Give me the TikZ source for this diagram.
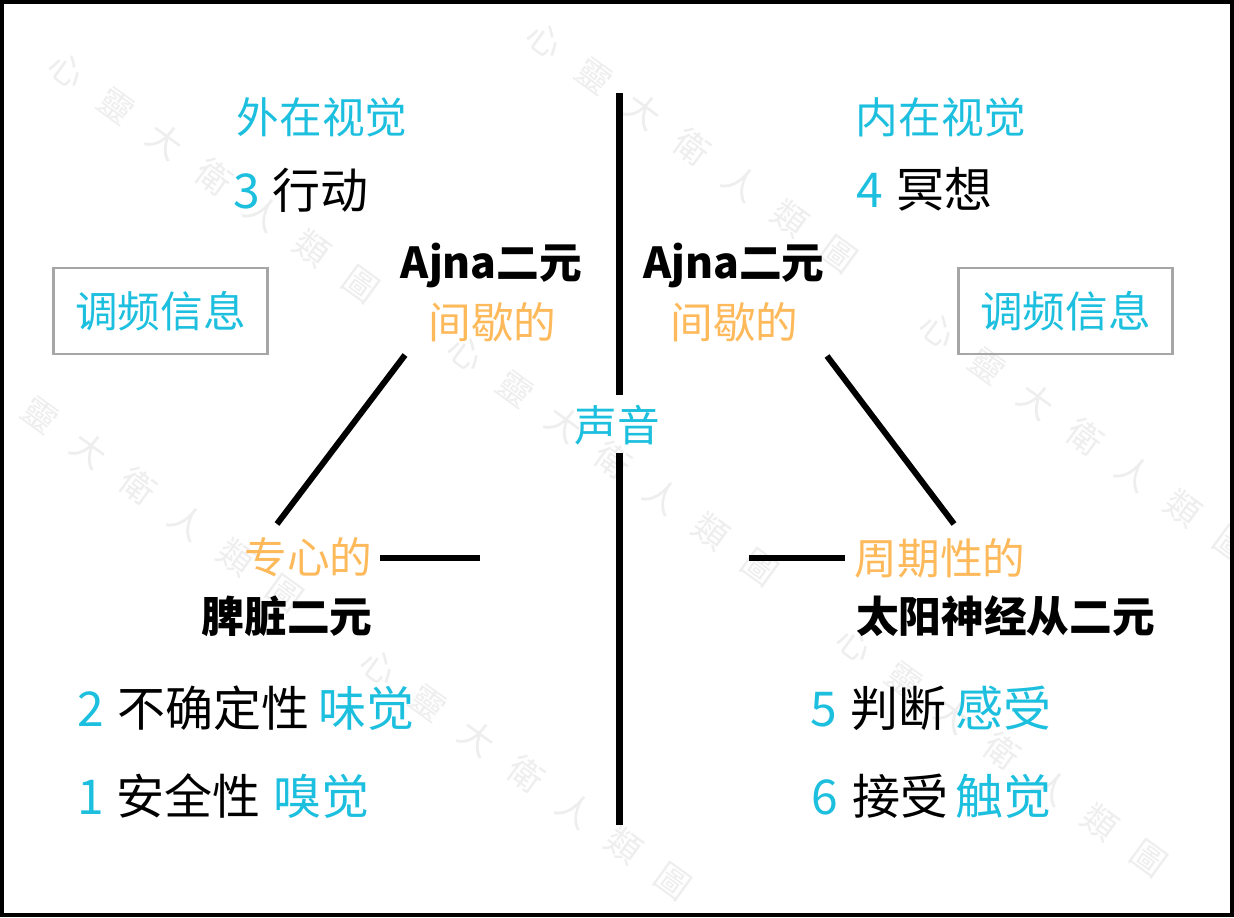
\documentclass[tikz,border=0pt]{standalone}
\usepackage{fontspec}
\setmainfont{Noto Sans CJK SC}
\newfontfamily\wmfont{Noto Sans CJK TC}
\definecolor{hdcyan}{HTML}{1DBFDF}
\definecolor{hdorange}{HTML}{FDB95A}
\definecolor{boxgray}{HTML}{A6A6A6}
\definecolor{wmgray}{HTML}{EEEEEE}
\begin{document}
\begin{tikzpicture}[x=0.75pt,y=-0.75pt,
  txt/.style={inner sep=0pt, anchor=center},
  hd/.style={txt, font=\fontsize{32}{38}\selectfont, text height=28.2pt, text depth=3.8pt},
  hdb/.style={hd, font=\fontsize{32}{38}\selectfont\bfseries},
  big/.style={txt, font=\fontsize{36}{42}\selectfont, text height=31.7pt, text depth=4.3pt},
  tbox/.style={hd, text=hdcyan, draw=boxgray, line width=2.2pt, minimum width=161pt, minimum height=64.5pt},
  wm/.style={inner sep=0pt, text=wmgray, font=\wmfont\fontsize{26}{30}\selectfont, rotate=-36},
  ln/.style={line width=4.5pt},
  vln/.style={line width=5pt}
]
\useasboundingbox (0,0) rectangle (1234,917);
\fill[white] (0,0) rectangle (1234,917);
% watermark
\foreach \sx/\sy [count=\i] in {67/70, 545/40, 938/330, -9/379, 466/353, 379/667, 855/644}{
  \foreach \c [count=\j from 0] in {心,靈,大,衛,人,類,圖}{
    \node[wm] (wm\i-\j) at ({\sx+49*\j},{\sy+35.7*\j}) {\c};
  }
}
% frame
\draw[line width=3pt] (2,2) rectangle (1232,915);

% centre axis
\node[hd, text=hdcyan] (sound) at (617,425) {声音};
\coordinate (vtop) at (619.5,93);
\coordinate (vmid1) at (619.5,395);
\coordinate (vmid2) at (619.5,453);
\coordinate (vbot) at (619.5,825);
\draw[vln] (vtop) -- (vmid1);
\draw[vln] (vmid2) -- (vbot);

% left half
\node[hd, text=hdcyan] (outvis) at (322,117.5) {外在视觉};
\node[big, text=hdcyan] (n3) at (247,190) {3};
\node[big] (act) at (320.5,190) {行动};
\node[hdb] (ajnaL) at (491.5,262) {Ajna二元};
\node[hd, text=hdorange] (intL) at (492.5,322) {间歇的};
\node[tbox] (boxL) at (160.5,311) {调频信息};
\node[hd, text=hdorange] (focus) at (308.5,557) {专心的};
\node[hdb] (spleen) at (287,616) {脾脏二元};
\node[big, text=hdcyan] (n2) at (91,708) {2};
\node[big] (uncert) at (213,708) {不确定性};
\node[big, text=hdcyan] (taste) at (366,708) {味觉};
\node[big, text=hdcyan] (n1) at (91,796) {1};
\node[big] (safe) at (188,796) {安全性};
\node[big, text=hdcyan] (smell) at (321,796) {嗅觉};

\coordinate (dLt) at (405,355);
\coordinate (dLb) at (277,524);
\draw[ln] (dLt) -- (dLb);
\coordinate (hLa) at (380,558);
\coordinate (hLb) at (480,558);
\draw[ln] (hLa) -- (hLb);

% right half
\node[hd, text=hdcyan] (invis) at (941,117.5) {内在视觉};
\node[big, text=hdcyan] (n4) at (870,189) {4};
\node[big] (medit) at (944.5,189) {冥想};
\node[hdb] (ajnaR) at (734,262) {Ajna二元};
\node[hd, text=hdorange] (intR) at (734.5,322) {间歇的};
\node[tbox] (boxR) at (1065.5,311) {调频信息};
\node[hd, text=hdorange] (cycl) at (940,558) {周期性的};
\node[hdb] (solar) at (1005.5,616) {太阳神经从二元};
\node[big, text=hdcyan] (n5) at (824,708) {5};
\node[big] (judge) at (898,708) {判断};
\node[big, text=hdcyan] (feel) at (1003,708) {感受};
\node[big, text=hdcyan] (n6) at (825,796) {6};
\node[big] (accept) at (900,796) {接受};
\node[big, text=hdcyan] (touch) at (1003,796) {触觉};

\coordinate (dRt) at (827,356);
\coordinate (dRb) at (954,524);
\draw[ln] (dRt) -- (dRb);
\coordinate (hRa) at (749,558);
\coordinate (hRb) at (845,558);
\draw[ln] (hRa) -- (hRb);
\end{tikzpicture}
\end{document}
